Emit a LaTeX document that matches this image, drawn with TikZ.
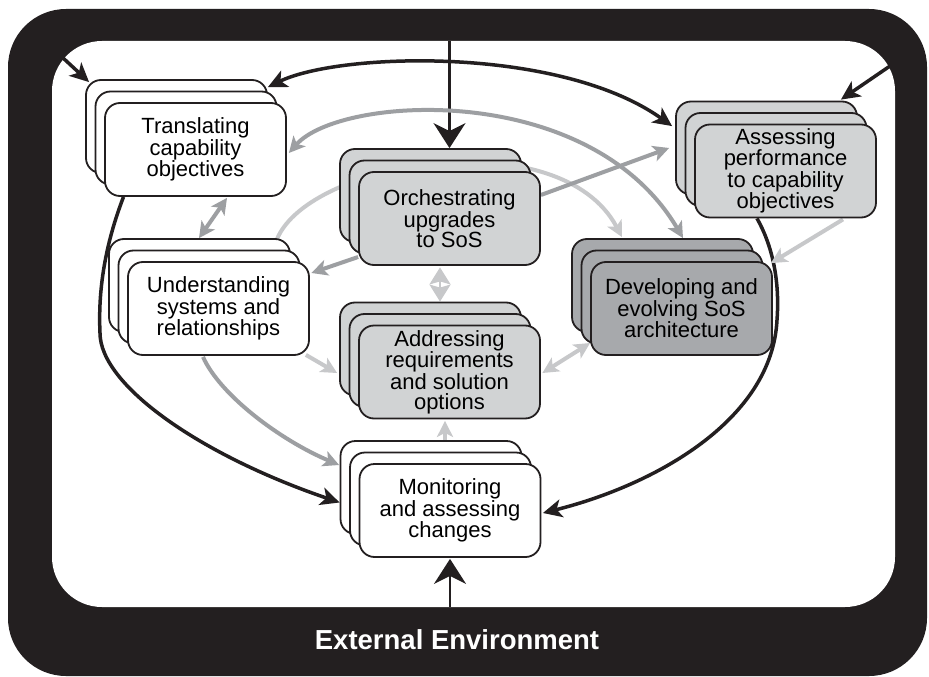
\documentclass[tikz,border=0pt]{standalone}
\usepackage{fontspec}
\setmainfont{Liberation Sans}
\usetikzlibrary{arrows.meta,shadows,backgrounds}

\definecolor{envblack}{HTML}{231F20}
\definecolor{cardgrey}{HTML}{D1D3D4}
\definecolor{carddark}{HTML}{A7A9AC}
\definecolor{linkgrey}{HTML}{9D9FA2}
\definecolor{linklight}{HTML}{C7C8CA}

\tikzset{
	stack/.style={rounded corners=15pt, draw=envblack, line width=1.8pt, fill=#1,
		minimum width=181pt, minimum height=93pt, inner sep=0pt, align=center,
		font=\fontsize{22}{20}\selectfont,
		general shadow={shadow xshift=-19pt, shadow yshift=23pt, fill=#1, draw=envblack, line width=1.8pt},
		general shadow={shadow xshift=-9.5pt, shadow yshift=11.5pt, fill=#1, draw=envblack, line width=1.8pt}},
	bigline/.style={draw=envblack, line width=2.5pt, >={Stealth[length=25pt,width=32pt,inset=8pt]}, ->},
	darkline/.style={draw=envblack, line width=3.5pt, >={Stealth[length=19pt,width=18pt,inset=5pt]}, ->},
	greyline/.style={draw=linkgrey, line width=4pt, >={Stealth[length=16pt,width=16pt,inset=4pt]}, ->},
	lightline/.style={draw=linklight, line width=4pt, >={Stealth[length=16pt,width=16pt,inset=4pt]}, ->}
}

\begin{document}
\begin{tikzpicture}[x=1pt,y=-1pt]
	\useasboundingbox (0,0) rectangle (929,677);
	
	% activities
	\node[stack=white] (tco) at (195.5,149.5) {Translating\\capability\\objectives};
	\node[stack=white] (usr) at (218.5,308.5) {Understanding\\systems and\\relationships};
	\node[stack=cardgrey] (ous) at (449.5,218.5) {Orchestrating\\upgrades\\to SoS};
	\node[stack=cardgrey] (arso) at (449.5,372) {Addressing\\requirements\\and solution\\options};
	\node[stack=white] (mac) at (450,510.5) {Monitoring\\and assessing\\changes};
	\node[stack=cardgrey] (apco) at (785.5,171) {Assessing\\performance\\to capability\\objectives};
	\node[stack=carddark] (dsa) at (681.5,308.5) {Developing and\\evolving SoS\\architecture};
	
	\node[text=white, font=\bfseries\fontsize{27.5}{30}\selectfont] (env) at (457,640) {External Environment};
	
	\coordinate (topin) at (449.5,41);
	\coordinate (botin) at (450,607);
	\coordinate (tlin) at (62,57);
	\coordinate (trin) at (890,66);
	
	\begin{scope}[on background layer]
	% environment frame
	\fill[envblack, rounded corners=58pt] (8,9) rectangle (927,676);
	\fill[white, rounded corners=50pt] (52,41) rectangle (895,607);
	
	% outer loop
	\draw[bigline] (topin) -- ([yshift=23pt]ous.north);
	\draw[bigline] (botin) -- ([yshift=-1pt]mac.south);
	\draw[darkline] (tlin) -- ([xshift=-15pt,yshift=20pt]tco.north west);
	\draw[darkline] (trin) -- ([xshift=-36pt,yshift=24pt]apco.north east);
	\draw[darkline, <->] ([xshift=-19pt,yshift=15pt]tco.north east)
		.. controls (340,52) and (560,46) .. ([xshift=-22pt,yshift=-2.5pt]apco.north west);
	\draw[darkline] ([xshift=-72pt]tco.south) .. controls (105,245) and (98,290) .. (100,333)
		.. controls (100,385) and (200,455) .. ([xshift=-19pt,yshift=8pt]mac.west);
	\draw[darkline] ([xshift=-28.5pt]apco.south) .. controls (772,245) and (780,280) .. (777,320)
		.. controls (772,420) and (655,485) .. ([xshift=1.5pt,yshift=-2.5pt]mac.east);
	
	% inner links
	\draw[greyline, <->] ([xshift=2pt,yshift=-3.5pt]tco.east)
		.. controls (340,95) and (590,80) .. ([xshift=1.5pt,yshift=23pt]dsa.north);
	\draw[lightline] ([xshift=58.5pt,yshift=22pt]usr.north)
		.. controls (310,160) and (560,120) .. ([xshift=-59.5pt,yshift=24pt]dsa.north);
	\draw[greyline] ([yshift=23.5pt]ous.east) -- ([xshift=-25pt,yshift=23pt]apco.west);
	\draw[greyline] ([yshift=-38.5pt]ous.west) -- ([xshift=1.5pt,yshift=35.5pt]usr.east);
	\draw[greyline, <->] ([xshift=31.5pt,yshift=-1pt]tco.south) -- ([xshift=-19.5pt,yshift=23pt]usr.north);
	\draw[lightline, <->, >={Stealth[length=17pt,width=21pt,inset=3pt]}, line width=2pt]
		([xshift=-9.5pt,yshift=-1.5pt]ous.south) -- ([xshift=-9.5pt,yshift=23pt]arso.north);
	\draw[lightline] ([xshift=-4pt,yshift=1pt]usr.south east) -- ([xshift=-21pt,yshift=-1pt]arso.west);
	\draw[greyline] ([xshift=-15.5pt,yshift=-1pt]usr.south)
		.. controls (220,395) and (280,440) .. ([xshift=-19.5pt,yshift=45.5pt]mac.west);
	\draw[lightline] ([xshift=-5pt,yshift=23pt]mac.north) -- ([xshift=-4.5pt,yshift=-1.5pt]arso.south);
	\draw[lightline, <->] ([xshift=1.5pt,yshift=-1pt]arso.east) -- ([yshift=-34.5pt]dsa.west);
	\draw[lightline] ([xshift=57.5pt,yshift=-1pt]apco.south) -- ([xshift=-2pt,yshift=-2pt]dsa.north east);
	\end{scope}
\end{tikzpicture}
\end{document}
